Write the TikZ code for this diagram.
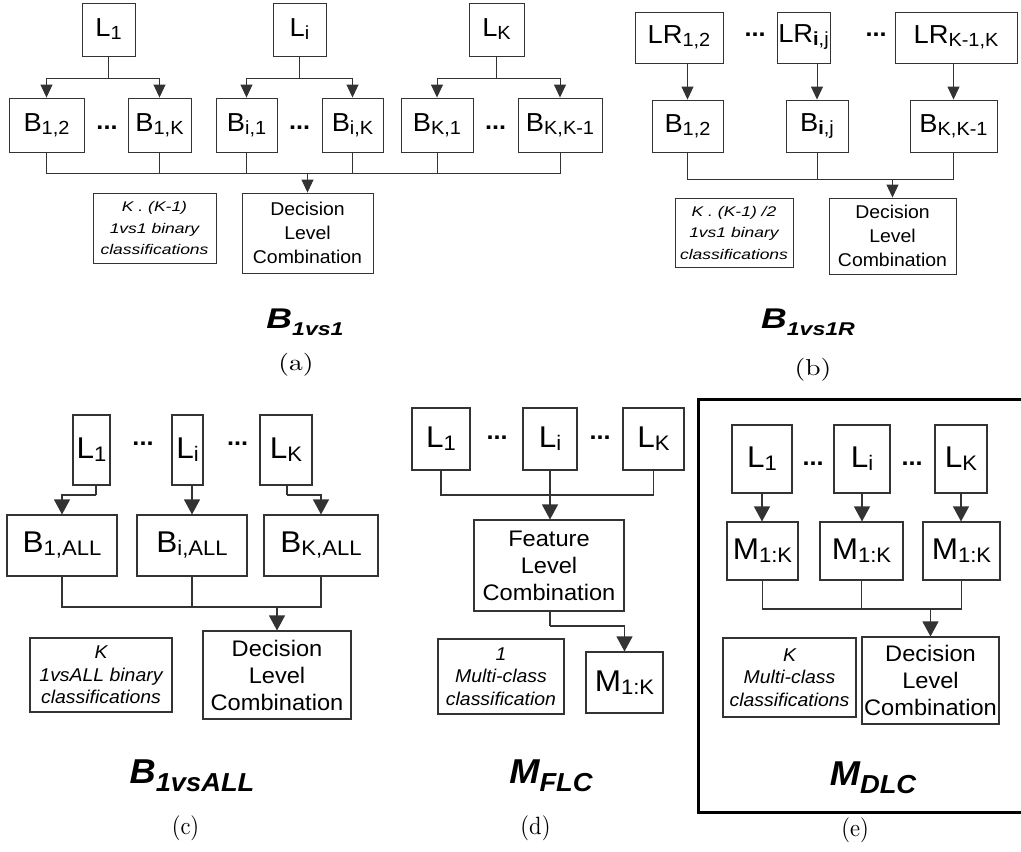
\documentclass[tikz,border=0pt]{standalone}
\usepackage{fontspec}
\usetikzlibrary{arrows.meta}
\newfontfamily\topf{Liberation Sans}[FakeStretch=1.25]
\newfontfamily\labf{Liberation Sans}[FakeStretch=1.05]
\newfontfamily\botf{Liberation Sans}[FakeStretch=1.05]
\newfontfamily\capt{lmroman10-regular}[Extension=.otf,FakeStretch=1.2]
\newfontfamily\capb{lmroman10-regular}[Extension=.otf,FakeStretch=0.9]
% subscripts for the two rows and for the titles
\newcommand\sbt[1]{\raisebox{-3pt}{\fontsize{19}{19}\selectfont #1}}
\newcommand\sbb[1]{\raisebox{-3pt}{\fontsize{21}{21}\selectfont #1}}
\newcommand\sbtt[1]{\raisebox{-7pt}{\fontsize{18.5}{18.5}\selectfont #1}}
\newcommand\sbbt[1]{\raisebox{-8pt}{\fontsize{26}{26}\selectfont #1}}
\tikzset{
  box/.style={draw=black!80, line width=0.9pt, inner sep=0pt, align=center},
  tlab/.style={box, font={\labf\fontsize{26}{26}\selectfont}},
  tdec/.style={box, font={\labf\fontsize{18.5}{24}\selectfont}},
  tnote/.style={box, font={\topf\itshape\fontsize{14}{21.5}\selectfont}},
  blab/.style={box, line width=1.1pt, font={\botf\fontsize{30}{30}\selectfont}},
  bdec/.style={box, line width=1.1pt, font={\botf\fontsize{22.5}{27}\selectfont}},
  bnote/.style={box, line width=1.1pt, font={\botf\itshape\fontsize{18.5}{22.5}\selectfont}},
  wire/.style={draw=black!80, line width=0.9pt},
  bwire/.style={draw=black!80, line width=1.1pt},
  tarr/.style={wire, -{Triangle[width=12pt,length=13pt]}},
  barr/.style={bwire, -{Triangle[width=16pt,length=15pt]}},
  dots/.style={anchor=base, inner sep=0pt, font={\botf\bfseries\fontsize{24}{24}\selectfont}},
  ttitle/.style={anchor=base, inner sep=0pt, font={\topf\bfseries\itshape\fontsize{28.5}{28.5}\selectfont}},
  btitle/.style={anchor=base, inner sep=0pt, font={\botf\bfseries\itshape\fontsize{34.5}{34.5}\selectfont}},
  tcap/.style={inner sep=0pt, font={\capt\fontsize{23}{23}\selectfont}},
  bcap/.style={inner sep=0pt, font={\capb\fontsize{25}{25}\selectfont}},
}
\begin{document}
\begin{tikzpicture}[x=1pt, y=-1pt]
\useasboundingbox (0,0) rectangle (1021,852);

% ---------------- (a) one-vs-one ----------------
\node[tlab, minimum width=53pt, minimum height=53pt] (aL1) at (108.5,29.5) {L\sbt{1}};
\node[tlab, minimum width=53pt, minimum height=53pt] (aLi) at (299.5,29.5) {L\sbt{i}};
\node[tlab, minimum width=55pt, minimum height=53pt] (aLK) at (496.5,29.5) {L\sbt{K}};
\node[tlab, minimum width=75pt, minimum height=54pt] (aB12) at (46.5,125) {B\sbt{1,2}};
\node[tlab, minimum width=63pt, minimum height=54pt] (aB1K) at (159.5,125) {B\sbt{1,K}};
\node[tlab, minimum width=61pt, minimum height=54pt] (aBi1) at (246.5,125) {B\sbt{i,1}};
\node[tlab, minimum width=61pt, minimum height=54pt] (aBiK) at (352.5,125) {B\sbt{i,K}};
\node[tlab, minimum width=72pt, minimum height=54pt] (aBK1) at (437,125) {B\sbt{K,1}};
\node[tlab, minimum width=84pt, minimum height=54pt] (aBKK) at (560,125) {B\sbt{K,K-1}};
\node[dots] (aD1) at (107,129) {...};
\node[dots] (aD2) at (299.5,129) {...};
\node[dots] (aD3) at (495.5,129) {...};
\node[tnote, minimum width=123pt, minimum height=70pt] (aNote) at (154.5,228) {K . (K-1)\\1vs1 binary\\classifications};
\node[tdec, minimum width=131pt, minimum height=80pt] (aDec) at (307.5,233) {Decision\\Level\\Combination};
\node[ttitle] (aTitle) at (305,328) {B\sbtt{1vs1}};
\node[tcap] (aCap) at (296,365) {(a)};

\coordinate (aS1) at (108.5,78);
\coordinate (aSi) at (299.5,78);
\coordinate (aSK) at (496.5,78);
\draw[wire] (aL1.south) -- (aS1);
\draw[wire] (aLi.south) -- (aSi);
\draw[wire] (aLK.south) -- (aSK);
\draw[tarr] (aS1) -| (aB12.north);
\draw[tarr] (aS1) -| (aB1K.north);
\draw[tarr] (aSi) -| (aBi1.north);
\draw[tarr] (aSi) -| (aBiK.north);
\draw[tarr] (aSK) -| (aBK1.north);
\draw[tarr] (aSK) -| (aBKK.north);
\coordinate (aJ) at (307.5,173);
\foreach \b in {aB12,aB1K,aBi1,aBiK,aBK1,aBKK} \draw[wire] (\b.south) |- (aJ);
\draw[tarr] (aJ) -- (aDec.north);

% ---------------- (b) one-vs-one with reduced features ----------------
\node[tlab, minimum width=88pt, minimum height=51pt] (bLR12) at (679,37.5) {LR\sbt{1,2}};
\node[tlab, minimum width=53pt, minimum height=51pt] (bLRij) at (803.5,37.5) {LR\sbt{\textbf{i},j}};
\node[tlab, minimum width=122pt, minimum height=51pt] (bLRKK) at (956,37.5) {LR\sbt{K-1,K}};
\node[dots] (bD1) at (755,36) {...};
\node[dots] (bD2) at (876,36) {...};
\node[tlab, minimum width=71pt, minimum height=52pt] (bB12) at (687.5,126) {B\sbt{1,2}};
\node[tlab, minimum width=62pt, minimum height=52pt] (bBij) at (817,126) {B\sbt{\textbf{i},j}};
\node[tlab, minimum width=87pt, minimum height=52pt] (bBKK) at (953.5,126) {B\sbt{K,K-1}};
\node[tnote, minimum width=118pt, minimum height=69pt] (bNote) at (734,232.5) {K . (K-1) /2\\1vs1 binary\\classifications};
\node[tdec, minimum width=127pt, minimum height=76pt] (bDec) at (892.5,236) {Decision\\Level\\Combination};
\node[ttitle] (bTitle) at (808,328) {B\sbtt{1vs1R}};
\node[tcap] (bCap) at (813,370) {(b)};

\draw[tarr] (bB12.north |- bLR12.south) -- (bB12.north);
\draw[tarr] (bBij.north |- bLRij.south) -- (bBij.north);
\draw[tarr] (bBKK.north |- bLRKK.south) -- (bBKK.north);
\coordinate (bJ) at (892.5,179);
\foreach \b in {bB12,bBij,bBKK} \draw[wire] (\b.south) |- (bJ);
\draw[tarr] (bJ) -- (bDec.north);

% ---------------- (c) one-vs-all ----------------
\node[blab, minimum width=37pt, minimum height=70pt] (cL1) at (91.5,450) {L\sbb{1}};
\node[blab, minimum width=31pt, minimum height=70pt] (cLi) at (187.5,450) {L\sbb{i}};
\node[blab, minimum width=52pt, minimum height=70pt] (cLK) at (286,450) {L\sbb{K}};
\node[dots] (cD1) at (143,445) {...};
\node[dots] (cD2) at (237.5,445) {...};
\node[blab, minimum width=110pt, minimum height=61pt] (cB1) at (62,545.5) {B\sbb{1,ALL}};
\node[blab, minimum width=110pt, minimum height=61pt] (cBi) at (192,545.5) {B\sbb{i,ALL}};
\node[blab, minimum width=114pt, minimum height=61pt] (cBK) at (321,545.5) {B\sbb{K,ALL}};
\node[bnote, minimum width=142pt, minimum height=74pt] (cNote) at (101,675) {K\\1vsALL binary\\classifications};
\node[bdec, minimum width=148pt, minimum height=88pt] (cDec) at (277,675) {Decision\\Level\\Combination};
\node[btitle] (cTitle) at (192,783) {B\sbbt{1vsALL}};
\node[bcap] (cCap) at (185.5,828) {(c)};

\coordinate (cS1) at (96,495);
\coordinate (cSK) at (287,495);
\draw[bwire] (cS1 |- cL1.south) -- (cS1);
\draw[barr] (cS1) -| (cB1.north);
\draw[barr] (cBi.north |- cLi.south) -- (cBi.north);
\draw[bwire] (cSK |- cLK.south) -- (cSK);
\draw[barr] (cSK) -| (cBK.north);
\coordinate (cJ) at (277,607);
\foreach \b in {cB1,cBi,cBK} \draw[bwire] (\b.south) |- (cJ);
\draw[barr] (cJ) -- (cDec.north);

% ---------------- (d) feature level combination ----------------
\node[blab, minimum width=58pt, minimum height=62pt] (dL1) at (441,439) {L\sbb{1}};
\node[blab, minimum width=54pt, minimum height=62pt] (dLi) at (550,439) {L\sbb{i}};
\node[blab, minimum width=61pt, minimum height=62pt] (dLK) at (653.5,439) {L\sbb{K}};
\node[dots] (dD1) at (497,439) {...};
\node[dots] (dD2) at (600,439) {...};
\node[bdec, minimum width=150pt, minimum height=91pt] (dFeat) at (549,565.5) {Feature\\Level\\Combination};
\node[blab, minimum width=77pt, minimum height=61pt] (dM) at (624.5,682.5) {M\sbb{1:K}};
\node[bnote, minimum width=126pt, minimum height=75pt] (dNote) at (501,676.5) {1\\Multi-class\\classification};
\node[btitle] (dTitle) at (551,783) {M\sbbt{FLC}};
\node[bcap] (dCap) at (535.5,828) {(d)};

\coordinate (dS) at (550,495);
\draw[bwire] (dL1.south) |- (dS);
\draw[bwire] (dLK.south) |- (dS);
\draw[barr] (dLi.south) -- (dLi.south |- dFeat.north);
\coordinate (dT) at (550,626);
\draw[bwire] (dT |- dFeat.south) -- (dT);
\draw[barr] (dT) -| (dM.north);

% ---------------- (e) decision level combination of multi-class models ----------------
\draw[line width=3pt] (1030,399) -- (698,399) -- (698,812) -- (1030,812);
\node[blab, minimum width=60pt, minimum height=68pt] (eL1) at (762,459) {L\sbb{1}};
\node[blab, minimum width=56pt, minimum height=68pt] (eLi) at (862,459) {L\sbb{i}};
\node[blab, minimum width=52pt, minimum height=68pt] (eLK) at (961,459) {L\sbb{K}};
\node[dots] (eD1) at (813,465) {...};
\node[dots] (eD2) at (912,465) {...};
\node[blab, minimum width=71pt, minimum height=58pt] (eM1) at (762.5,551) {M\sbb{1:K}};
\node[blab, minimum width=83pt, minimum height=58pt] (eM2) at (861.5,551) {M\sbb{1:K}};
\node[blab, minimum width=77pt, minimum height=58pt] (eM3) at (961.5,551) {M\sbb{1:K}};
\node[bnote, minimum width=133pt, minimum height=79pt] (eNote) at (789.5,677.5) {K\\Multi-class\\classifications};
\node[bdec, minimum width=137pt, minimum height=87pt] (eDec) at (930.5,680.5) {Decision\\Level\\Combination};
\node[btitle] (eTitle) at (873,785) {M\sbbt{DLC}};
\node[bcap] (eCap) at (855,830) {(e)};

\draw[barr] (eL1.south) -- (eL1.south |- eM1.north);
\draw[barr] (eLi.south) -- (eLi.south |- eM2.north);
\draw[barr] (eLK.south) -- (eLK.south |- eM3.north);
\coordinate (eJ) at (930.5,609);
\foreach \b in {eM1,eM2,eM3} \draw[bwire] (\b.south) |- (eJ);
\draw[barr] (eJ) -- (eDec.north);
\end{tikzpicture}
\end{document}
